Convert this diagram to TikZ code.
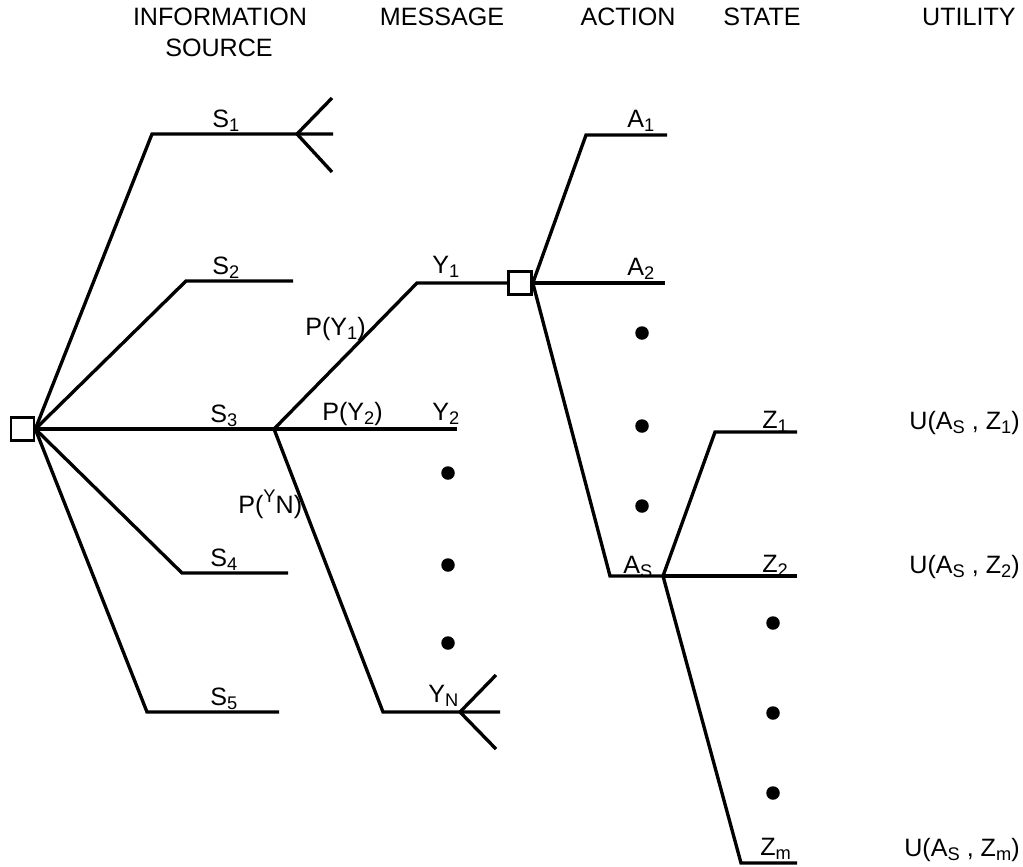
\documentclass[tikz,border=0pt]{standalone}
\usepackage{fontspec}
\setmainfont{Liberation Sans}
% lowered subscript and raised superscript in text type
\newcommand\lowsub[1]{\raisebox{-2.8pt}{\fontsize{10.4pt}{11pt}\selectfont #1}}
\newcommand\highsup[1]{\raisebox{5.8pt}{\fontsize{10.4pt}{11pt}\selectfont #1}}
\begin{document}
\begin{tikzpicture}[x=0.02cm,y=-0.02cm,
  branch/.style={line width=1.9pt},
  decision/.style={draw, line width=1.5pt, minimum size=0.46cm, inner sep=0pt},
  lbl/.style={inner sep=0pt, anchor=base west, font=\fontsize{14.3pt}{17pt}\selectfont},
  head/.style={inner sep=0pt, anchor=base, font=\fontsize{14.3pt}{17pt}\selectfont},
  ellip/.style={circle, fill, inner sep=0pt, minimum size=0.27cm}]
\useasboundingbox (0,0) rectangle (1023,866);

% column headings
\node[head] (hInfo) at (220,25) {INFORMATION};
\node[head] (hSrc)  at (219,56) {SOURCE};
\node[head] (hMsg)  at (442,25) {MESSAGE};
\node[head] (hAct)  at (628,25) {ACTION};
\node[head] (hSta)  at (762,25) {STATE};
\node[head, anchor=base east] (hUti) at (1016,25) {UTILITY};

% decision nodes
\node[decision] (R) at (22.5,429) {};
\node[decision] (D) at (520,283) {};

% information sources
\coordinate (s1c) at (152,134); \coordinate (s1f) at (297,134);
\coordinate (s1e) at (333,134); \coordinate (s1u) at (332,98);
\coordinate (s1d) at (332,172);
\coordinate (s2c) at (186,281); \coordinate (s2e) at (293,281);
\coordinate (M)   at (274,429);
\coordinate (s4c) at (182,573); \coordinate (s4e) at (288,573);
\coordinate (s5c) at (147,712); \coordinate (s5e) at (279,712);

\draw[branch] (R.east) -- (s1c) -- (s1f) -- (s1e);
\draw[branch] (s1u) -- (s1f) -- (s1d);
\draw[branch] (R.east) -- (s2c) -- (s2e);
\draw[branch] (R.east) -- (M);
\draw[branch] (R.east) -- (s4c) -- (s4e);
\draw[branch] (R.east) -- (s5c) -- (s5e);

\node[lbl] (lS1) at (212,127) {S\lowsub{1}};
\node[lbl] (lS2) at (212,274) {S\lowsub{2}};
\node[lbl] (lS3) at (210,422) {S\lowsub{3}};
\node[lbl] (lS4) at (210,566) {S\lowsub{4}};
\node[lbl] (lS5) at (210,705) {S\lowsub{5}};

% messages
\coordinate (y1c) at (417,283);
\coordinate (y2e) at (457,429);
\coordinate (ync) at (383,712); \coordinate (ynf) at (460,712);
\coordinate (yne) at (500,712); \coordinate (ynu) at (496,675);
\coordinate (ynd) at (496,749);

\draw[branch] (M) -- (y1c) -- (D.west);
\draw[branch] (M) -- (y2e);
\draw[branch] (M) -- (ync) -- (ynf) -- (yne);
\draw[branch] (ynu) -- (ynf) -- (ynd);

\node[lbl] (lY1) at (432,273) {Y\lowsub{1}};
\node[lbl] (lY2) at (432,420) {Y\lowsub{2}};
\node[lbl] (lYN) at (428,702) {Y\lowsub{N}};
\node[lbl] (lP1) at (305,335) {P(Y\lowsub{1})};
\node[lbl] (lP2) at (322,420) {P(Y\lowsub{2})};
\node[lbl] (lPN) at (238,513) {P(\highsup{Y}N)};

\node[ellip] (m1) at (448,473) {};
\node[ellip] (m2) at (448,565) {};
\node[ellip] (m3) at (448,643) {};

% actions
\coordinate (a1c) at (586,135); \coordinate (a1e) at (667,135);
\coordinate (a2e) at (665,283);
\coordinate (asc) at (610,576);
\coordinate (X)   at (663,576);

\draw[branch] (D.east) -- (a1c) -- (a1e);
\draw[branch] (D.east) -- (a2e);
\draw[branch] (D.east) -- (asc) -- (X);

\node[lbl] (lA1) at (627,127) {A\lowsub{1}};
\node[lbl] (lA2) at (627,275) {A\lowsub{2}};
\node[lbl] (lAS) at (623,573) {A\lowsub{S}};

\node[ellip] (a1) at (642,333) {};
\node[ellip] (a2) at (642,426) {};
\node[ellip] (a3) at (642,506) {};

% states
\coordinate (z1c) at (715,432); \coordinate (z1e) at (797,432);
\coordinate (z2e) at (797,576);
\coordinate (zmc) at (741,863); \coordinate (zme) at (797,863);

\draw[branch] (X) -- (z1c) -- (z1e);
\draw[branch] (X) -- (z2e);
\draw[branch] (X) -- (zmc) -- (zme);

\node[lbl] (lZ1) at (762,428) {Z\lowsub{1}};
\node[lbl] (lZ2) at (762,572) {Z\lowsub{2}};
\node[lbl] (lZm) at (760,855) {Z\lowsub{m}};

\node[ellip] (z1) at (773,623) {};
\node[ellip] (z2) at (773,713) {};
\node[ellip] (z3) at (773,793) {};

% utilities
\node[lbl, anchor=base east] (u1) at (1020,429) {U(A\lowsub{S} , Z\lowsub{1})};
\node[lbl, anchor=base east] (u2) at (1020,573) {U(A\lowsub{S} , Z\lowsub{2})};
\node[lbl, anchor=base east] (um) at (1020,856) {U(A\lowsub{S} , Z\lowsub{m})};
\end{tikzpicture}
\end{document}
